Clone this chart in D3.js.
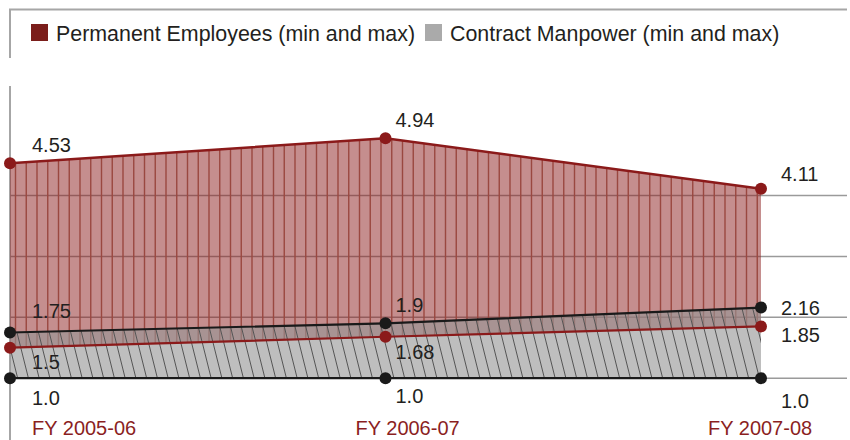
<!DOCTYPE html>
<html>
<head>
<meta charset="utf-8">
<script src="https://cdn.jsdelivr.net/npm/d3@7"></script>
<style>
  body { margin: 0; background: #fff; }
  text { font-family: "Liberation Sans", Arial, sans-serif; fill: #231f20; }
</style>
</head>
<body>
<script>
'use strict';

// data
const years = ["FY 2005-06", "FY 2006-07", "FY 2007-08"]
const permMin = [1.5, 1.68, 1.85]
const permMax = [4.53, 4.94, 4.11]
const contractMin = [1.0, 1.0, 1.0]
const contractMax = [1.75, 1.9, 2.16]
const gridTicks = [1, 2, 3, 4]
const legendNames = ["Permanent Employees (min and max)", "Contract Manpower (min and max)"]

const m = { width: 850, height: 440 }
const red = "#8b1a1a"

// label nudges so the numbers don't sit on each other
const valDx = [22, 10, 20]
const xLabelDx = [22, -30, -53]
const lblDy = {
  permMax: [-11, -11, -8],
  permMin: [21, 22, 16],
  conMax: [-14, -11, 7],
  conMin: [27, 25, 30]
}

const svg = d3.select('body')
  .append('svg')
  .attr('width', m.width)
  .attr('height', m.height)

const defs = svg.append('defs')

const x = d3.scalePoint()
  .domain(years)
  .range([10, 761])

const y = d3.scaleLinear()
  .domain([0, 5.8])
  .range([439, 86])

// frame lines
svg.append('path')
  .attr('d', 'M9,9.5H847M10,9V58')
  .attr('fill', 'none')
  .attr('stroke', '#a6a6a6')
  .attr('stroke-width', 2)

svg.append('line')
  .attr('x1', 10).attr('x2', 10)
  .attr('y1', 86).attr('y2', 440)
  .attr('stroke', '#a6a6a6')
  .attr('stroke-width', 2)

// legend
const leg = svg.append('g')
const legColors = ["#7b1e1b", "#aaaaaa"]
const legX = [31, 425]
legendNames.forEach((name, i) => {
  leg.append('rect')
    .attr('x', legX[i]).attr('y', 24)
    .attr('width', 17).attr('height', 17)
    .attr('fill', legColors[i])
  leg.append('text')
    .attr('x', legX[i] + 25)
    .attr('y', 40.5)
    .style('font-size', '21.4px')
    .text(name)
})

// gridlines
svg.append('g').selectAll('line')
  .data(gridTicks)
  .enter().append('line')
    .attr('x1', 10).attr('x2', 847)
    .attr('y1', (d) => y(d)).attr('y2', (d) => y(d))
    .attr('stroke', '#9a9a9a')
    .attr('stroke-width', 1.5)

const rows = years.map((yr, i) => ({
  yr: yr, pMin: permMin[i], pMax: permMax[i], cMin: contractMin[i], cMax: contractMax[i]
}))

const permArea = d3.area()
  .x((d) => x(d.yr))
  .y0((d) => y(d.pMin))
  .y1((d) => y(d.pMax))

const conArea = d3.area()
  .x((d) => x(d.yr))
  .y0((d) => y(d.cMin))
  .y1((d) => y(d.cMax))

defs.append('clipPath').attr('id', 'clipPerm')
  .append('path').attr('d', permArea(rows))
defs.append('clipPath').attr('id', 'clipCon')
  .append('path').attr('d', conArea(rows))

// hatch line positions across the plot
const hatchX = d3.range(-100, 800, 10.75)
const hTop = y(5.2), hBottom = y(0.8)

svg.append('path').attr('d', permArea(rows))
  .attr('fill', 'rgb(139,30,30)').attr('fill-opacity', 0.5)
svg.append('g').attr('clip-path', 'url(#clipPerm)')
  .selectAll('line')
  .data(hatchX)
  .enter().append('line')
    .attr('x1', (d) => d + 8).attr('x2', (d) => d + 8)
    .attr('y1', hTop).attr('y2', hBottom)
    .attr('stroke', '#9a4840')
    .attr('stroke-width', 1.4)

svg.append('path').attr('d', conArea(rows))
  .attr('fill', 'rgb(150,150,150)').attr('fill-opacity', 0.62)
svg.append('g').attr('clip-path', 'url(#clipCon)')
  .selectAll('line')
  .data(hatchX)
  .enter().append('line')
    .attr('x1', (d) => d).attr('x2', (d) => d + 0.25 * (hBottom - hTop))
    .attr('y1', hTop).attr('y2', hBottom)
    .attr('stroke', '#555')
    .attr('stroke-width', 1)

const series = [
  { key: 'cMin', vals: contractMin, color: '#1a1a1a', dy: lblDy.conMin },
  { key: 'cMax', vals: contractMax, color: '#1a1a1a', dy: lblDy.conMax },
  { key: 'pMin', vals: permMin, color: red, dy: lblDy.permMin },
  { key: 'pMax', vals: permMax, color: red, dy: lblDy.permMax }
]

series.forEach((s) => {
  const line = d3.line()
    .x((d) => x(d.yr))
    .y((d) => y(d[s.key]))
  svg.append('path')
    .attr('d', line(rows))
    .attr('fill', 'none')
    .attr('stroke', s.color)
    .attr('stroke-width', s.key == 'pMax' ? 2.5 : 2.2)
})

series.forEach((s) => {
  svg.append('g').selectAll('circle')
    .data(rows)
    .enter().append('circle')
      .attr('cx', (d) => x(d.yr))
      .attr('cy', (d) => y(d[s.key]))
      .attr('r', 6)
      .attr('fill', s.color)

  svg.append('g').selectAll('text')
    .data(rows)
    .enter().append('text')
      .attr('x', (d, i) => x(d.yr) + valDx[i])
      .attr('y', (d, i) => y(d[s.key]) + s.dy[i])
      .style('font-size', '20px')
      .text((d) => fmt(d[s.key]))
})

// category labels
svg.append('g').selectAll('text')
  .data(years)
  .enter().append('text')
    .attr('x', (d, i) => x(d) + xLabelDx[i])
    .attr('y', 435)
    .style('font-size', '20px')
    .style('fill', '#8b1f1f')
    .text((d) => d)

function fmt(v) {
  return v % 1 === 0 ? v.toFixed(1) : String(v)
}
</script>
</body>
</html>
